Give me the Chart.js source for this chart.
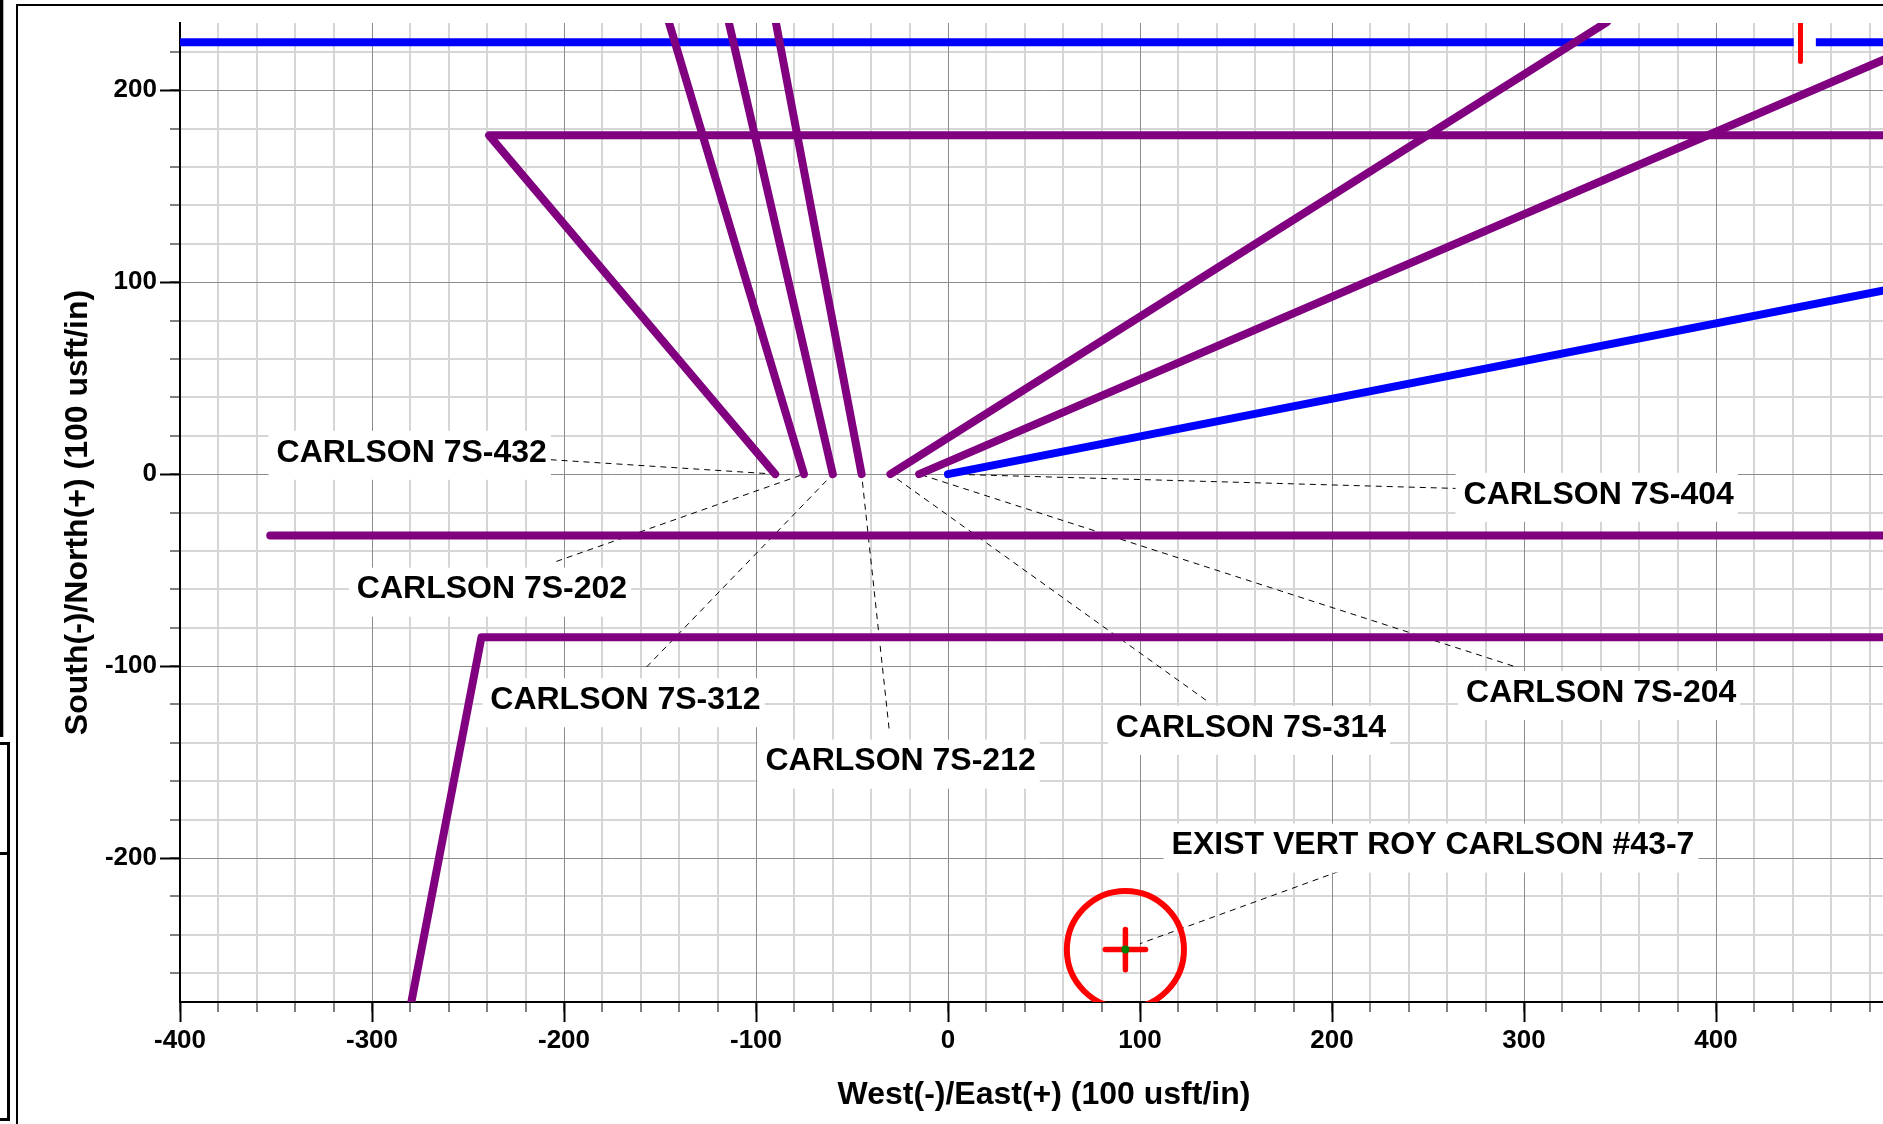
<!DOCTYPE html>
<html>
<head>
<meta charset="utf-8">
<script src="https://cdn.jsdelivr.net/npm/chart.js@4.4.1/dist/chart.umd.min.js"></script>
<style>
html,body{margin:0;padding:0;background:#fff;overflow:hidden;width:1883px;height:1124px}
#wrap{position:absolute;left:0;top:0;width:1960px;height:1124px}
canvas{display:block}
</style>
</head>
<body>
<div id="wrap"><canvas id="c" width="1960" height="1124"></canvas></div>
<script>
// ---------- axis ranges / ticks ----------
const xRange = [-400, 500];
const yRange = [-275, 235];
const xMajorTicks = [-400, -300, -200, -100, 0, 100, 200, 300, 400, 500];
const yMajorTicks = [-200, -100, 0, 100, 200];
const xMinorTicks = [-400, -380, -360, -340, -320, -300, -280, -260, -240, -220, -200, -180, -160, -140, -120,
                     -100, -80, -60, -40, -20, 0, 20, 40, 60, 80, 100, 120, 140, 160, 180, 200, 220, 240, 260,
                     280, 300, 320, 340, 360, 380, 400, 420, 440, 460, 480, 500];
const yMinorTicks = [-260, -240, -220, -200, -180, -160, -140, -120, -100, -80, -60, -40, -20, 0,
                     20, 40, 60, 80, 100, 120, 140, 160, 180, 200, 220];
const xTitle = 'West(-)/East(+) (100 usft/in)';
const yTitle = 'South(-)/North(+) (100 usft/in)';

// ---------- well paths (x = West/East, y = South/North) ----------
const well432 = [[-90, 0], [-239, 176.5], [500, 176.5]];
const well202 = [[-75, 0], [-145.4, 235.5]];
const well312 = [[-60, 0], [-114.2, 235.5]];
const well212 = [[-45, 0], [-89.7, 235.5]];
const well314 = [[-30, 0], [343.2, 235.5]];
const well204 = [[-15, 0], [500, 221.3]];
const well404 = [[0, 0], [500, 98.2]];
const offsetWellA = [[-353, -32], [500, -32]];
const offsetWellB = [[-279.5, -275], [-243, -85], [500, -85]];
const blueWestSegment = [[-400, 225], [440.5, 225]];
const blueEastSegment = [[452, 225], [500, 225]];
const redTick = [[444, 215], [444, 235]];

// existing vertical well marker
const existWell = [[92.4, -247.7]];
const existCircleRadius = 30.5;  // in axis units
const existCrossArm = 10.5;      // in axis units

// ---------- labels ----------
const labelTexts = ['CARLSON 7S-432', 'CARLSON 7S-202', 'CARLSON 7S-312', 'CARLSON 7S-212',
                    'CARLSON 7S-314', 'CARLSON 7S-204', 'CARLSON 7S-404', 'EXIST VERT ROY CARLSON #43-7'];
const labelX = [-279.3, -237.5, -168, -24.7, 157.8, 340.2, 338.9, 252.6];
const labelY = [11.1, -60.2, -117.8, -149.8, -132.2, -114, -10.8, -193.5];
const leaderFrom = [[-207, 7.5], [-204, -45.5], [-157, -100.5], [-30.7, -132.5],
                    [134.4, -117.8], [294.4, -100], [266, -7.5], [209, -205]];
const leaderTo = [[-90, 0], [-75, 0], [-60, 0], [-45, 0], [-30, 0], [-15, 0], [0, 0], [100, -244.6]];

const PURPLE = '#800080', BLUE = '#0000ff', RED = '#ff0000', GREEN = '#008000';
const FONT = '"Liberation Sans", Arial, Helvetica, sans-serif';
const CLEAR = 'rgba(0,0,0,0)';

Chart.defaults.font.family = FONT;

function unitsToPx(chart, u) {
  const s = chart.scales.x;
  return Math.abs(s.getPixelForValue(u) - s.getPixelForValue(0));
}
function lineDs(data, color, width, order, extra) {
  return Object.assign({
    data, showLine: true, borderColor: color, backgroundColor: color, borderWidth: width,
    pointRadius: 0, pointHoverRadius: 0, pointHitRadius: 0,
    borderCapStyle: 'round', borderJoinStyle: 'round', order,
    xAxisID: 'x', yAxisID: 'y'
  }, extra || {});
}

const datasets = [];
// leader lines (bottom)
leaderFrom.forEach((p, i) => {
  datasets.push(lineDs([p, leaderTo[i]], '#000', 1, 6, {borderDash: [6, 5], borderCapStyle: 'butt'}));
});
// blue wells
datasets.push(lineDs(blueWestSegment, BLUE, 8, 5, {borderCapStyle: 'butt'}));
datasets.push(lineDs(blueEastSegment, BLUE, 8, 5, {borderCapStyle: 'butt'}));
datasets.push(lineDs(well404, BLUE, 8, 5));
// purple wells
[well432, well202, well312, well212, well314, well204, offsetWellA, offsetWellB].forEach(w => {
  datasets.push(lineDs(w, PURPLE, 8, 4));
});
// red tick
datasets.push(lineDs(redTick, RED, 5, 3));
// existing well circle (clipped at the plot area)
datasets.push({
  data: existWell, showLine: false, pointStyle: 'circle', order: 2,
  clip: {left: 0, top: 0, right: 0, bottom: 0},
  pointRadius: c => unitsToPx(c.chart, existCircleRadius), pointHoverRadius: 0,
  pointBackgroundColor: CLEAR, backgroundColor: CLEAR,
  pointBorderColor: RED, borderColor: RED, pointBorderWidth: 6, borderWidth: 6,
  xAxisID: 'x', yAxisID: 'y'
});
// cross
datasets.push({
  data: existWell, showLine: false, pointStyle: 'cross', order: 1, roundCap: true,
  pointRadius: c => unitsToPx(c.chart, existCrossArm), pointHoverRadius: 0,
  pointBorderColor: RED, borderColor: RED, pointBorderWidth: 5.5, borderWidth: 5.5,
  pointBackgroundColor: RED, xAxisID: 'x', yAxisID: 'y'
});
// green centre dot
datasets.push({
  data: existWell, showLine: false, pointStyle: 'circle', order: 0,
  pointRadius: 4, pointHoverRadius: 0, pointBorderWidth: 0, borderWidth: 0,
  pointBackgroundColor: GREEN, backgroundColor: GREEN, xAxisID: 'x', yAxisID: 'y'
});

// ---------- plugins ----------
const framePlugin = {
  id: 'frame',
  beforeDraw(chart) {
    const ctx = chart.ctx;
    ctx.save();
    ctx.fillStyle = '#fff';
    ctx.fillRect(0, 0, chart.width, chart.height);
    ctx.fillStyle = '#000';
    ctx.fillRect(0, 0, 3.3, 737);          // neighbouring panel edge
    ctx.fillRect(0, 742, 10, 3);
    ctx.fillRect(7, 742, 3, 379);
    ctx.fillRect(0, 852, 8, 3);
    ctx.fillRect(0, 1118, 10, 3);
    ctx.fillRect(16, 4, 2, 1124);          // frame left
    ctx.fillRect(16, 4, chart.width, 2);   // frame top
    ctx.restore();
  }
};
const capPlugin = {
  id: 'capfix',
  beforeDatasetDraw(chart, args) {
    const ds = chart.data.datasets[args.index];
    chart.ctx.save();
    if (ds.roundCap) chart.ctx.lineCap = 'round';
  },
  afterDatasetDraw(chart) {
    chart.ctx.restore();
  }
};
const labelPlugin = {
  id: 'wellLabels',
  afterDatasetsDraw(chart) {
    const ctx = chart.ctx, xs = chart.scales.x, ys = chart.scales.y;
    ctx.save();
    ctx.font = 'bold 32px ' + FONT;
    ctx.textAlign = 'center';
    ctx.textBaseline = 'middle';
    labelTexts.forEach((t, i) => {
      const px = xs.getPixelForValue(labelX[i]);
      const py = ys.getPixelForValue(labelY[i]);
      const w = ctx.measureText(t).width;
      ctx.fillStyle = '#fff';
      ctx.fillRect(px - w / 2 - 8, py - 22, w + 12, 49);
      ctx.fillStyle = '#000';
      ctx.fillText(t, px, py);
    });
    ctx.restore();
  }
};

// ---------- scales ----------
const isMajor = v => v % 100 === 0;

function majorAxis(axis, range, tickValues, title, titlePad, fit) {
  return {
    type: 'linear', axis, position: axis === 'x' ? 'bottom' : 'left', weight: 1,
    min: range[0], max: range[1], bounds: 'data',
    afterFit: fit,
    afterBuildTicks: s => { s.ticks = tickValues.map(v => ({value: v})); },
    ticks: {
      autoSkip: false, maxRotation: 0, minRotation: 0,
      color: '#000', padding: 3, font: {size: 26, weight: 'bold'},
      callback: v => String(v)
    },
    grid: {
      z: -1, lineWidth: 1, tickLength: 20, tickWidth: 2,
      color: '#8c8c8c', tickColor: '#000'
    },
    border: {display: true, color: '#000', width: 2, z: 0},
    title: {display: true, text: title, color: '#000', font: {size: 32, weight: 'bold'}, padding: titlePad}
  };
}
function minorAxis(axis, range, tickValues, fit) {
  return {
    type: 'linear', axis, position: axis === 'x' ? 'bottom' : 'left', weight: 0,
    min: range[0], max: range[1], bounds: 'data',
    afterFit: fit,
    afterBuildTicks: s => { s.ticks = tickValues.map(v => ({value: v})); },
    ticks: {display: false, autoSkip: false},
    grid: {
      z: -2, lineWidth: 2, tickLength: 10, tickWidth: 1,
      color: c => (c.tick && isMajor(c.tick.value)) ? CLEAR : '#d6d6d6',
      tickColor: '#000'
    },
    border: {display: false},
    title: {display: false}
  };
}

new Chart(document.getElementById('c'), {
  type: 'scatter',
  data: {datasets},
  options: {
    responsive: false,
    animation: false,
    events: [],
    layout: {padding: {left: 0, top: 23, right: 52, bottom: 0}},
    plugins: {legend: {display: false}, tooltip: {enabled: false}, title: {display: false}},
    scales: {
      x: majorAxis('x', xRange, xMajorTicks, xTitle, {top: 0, bottom: 10}, s => { s.height = 122; }),
      y: majorAxis('y', yRange, yMajorTicks, yTitle, {top: 59, bottom: 0}, s => { s.width = 180; }),
      xMinor: minorAxis('x', xRange, xMinorTicks, s => { s.height = 0; }),
      yMinor: minorAxis('y', yRange, yMinorTicks, s => { s.width = 0; })
    }
  },
  plugins: [framePlugin, capPlugin, labelPlugin]
});
</script>
</body>
</html>
